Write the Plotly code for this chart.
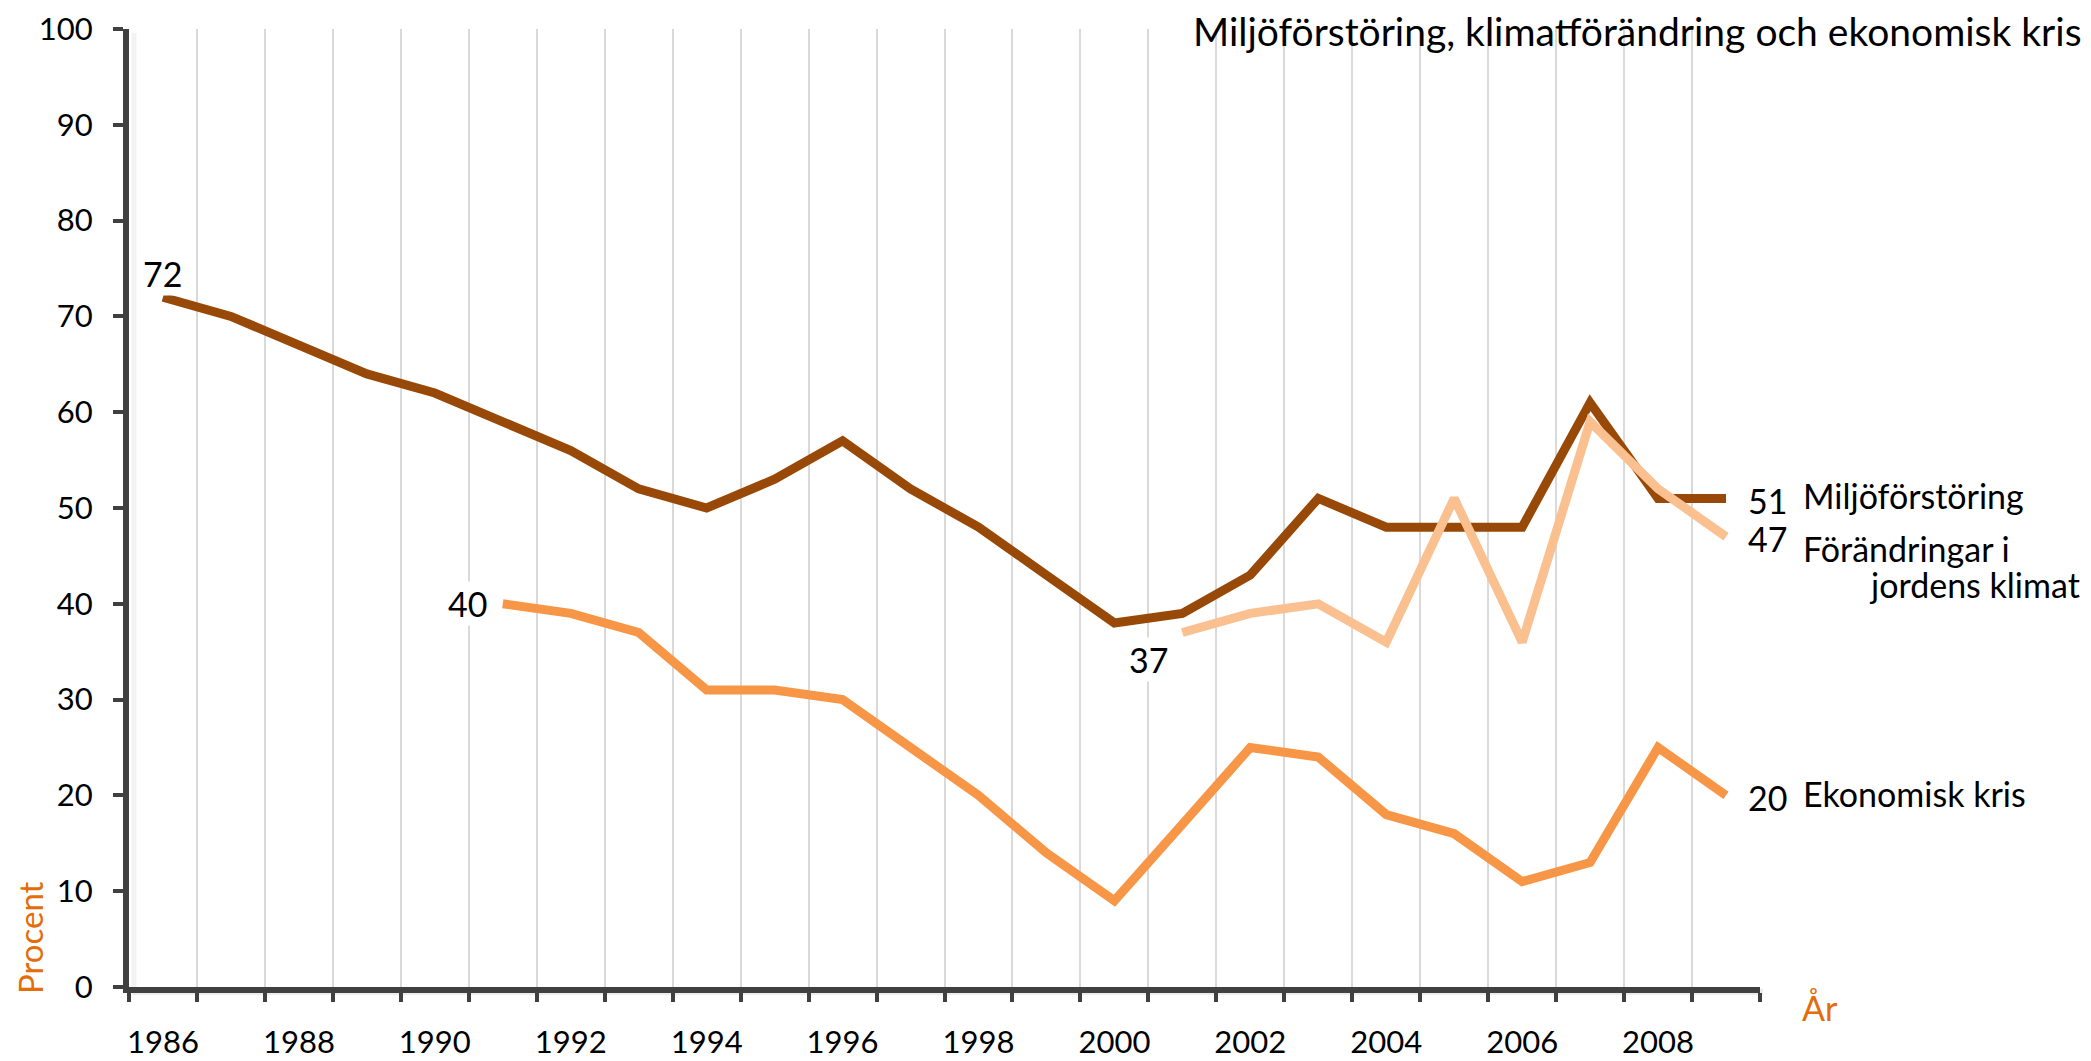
import plotly.graph_objects as go

miljo_years = list(range(1986, 2010))
miljo = [72, 70, 67, 64, 62, 59, 56, 52, 50, 53, 57, 52, 48, 43, 38, 39, 43, 51, 48, 48, 48, 61, 51, 51]
ekon_years = list(range(1991, 2010))
ekon = [40, 39, 37, 31, 31, 30, 25, 20, 14, 9, 17, 25, 24, 18, 16, 11, 13, 25, 20]
klimat_years = list(range(2001, 2010))
klimat = [37, 39, 40, 36, 51, 36, 59, 52, 47]
tick_years = list(range(1986, 2009, 2))
yticks = list(range(0, 101, 10))

C_MILJO = "#984807"
C_EKON = "#F79646"
C_KLIM = "#FAC090"
C_AXTITLE = "#E46C0A"
C_AX = "#404040"
FONT = "Lato"
FS_TICK = 31
FS_LAB = 34
FS_TITLE = 39

# page offset (body margin) and figure geometry in window pixels
OFF = 8
W, H = 2091 - OFF, 1061 - OFF
PL, PR, PT, PB = 129, 1760, 29, 987  # plot area in window pixels
L, T = PL - OFF, PT - OFF
R, B = W - (PR - OFF), H - (PB - OFF)
pw, ph = W - L - R, H - T - B
def px(x): return (x - OFF - L) / pw
def py(y): return (H - B - (y - OFF)) / ph

fig = go.Figure()
for xs, ys, c, name in [(ekon_years, ekon, C_EKON, "Ekonomisk kris"),
                        (miljo_years, miljo, C_MILJO, "Miljöförstöring"),
                        (klimat_years, klimat, C_KLIM, "Förändringar i jordens klimat")]:
    fig.add_trace(go.Scatter(x=xs, y=ys, mode="lines", name=name,
                             line=dict(color=c, width=9), showlegend=False))

ann = []
def lab(x, y, text, xanchor="center", xshift=0, yshift=0):
    ann.append(dict(x=x, y=y, xref="x", yref="y", text=text, showarrow=False,
                    xanchor=xanchor, yanchor="middle", xshift=xshift, yshift=yshift,
                    font=dict(family=FONT, size=FS_LAB, color="black"), bgcolor="white"))

lab(miljo_years[0], miljo[0], str(miljo[0]), yshift=24)
lab(ekon_years[0], ekon[0], str(ekon[0]), xanchor="right", xshift=-14)
lab(klimat_years[0], klimat[0], str(klimat[0]), xshift=-34, yshift=-27)
lab(miljo_years[-1], miljo[-1], str(miljo[-1]), xanchor="left", xshift=20, yshift=-2)
lab(klimat_years[-1], klimat[-1], str(klimat[-1]), xanchor="left", xshift=20, yshift=-2)
lab(ekon_years[-1], ekon[-1], str(ekon[-1]), xanchor="left", xshift=20, yshift=-2)

def name_lab(xw, yw, text, xanchor="left"):
    ann.append(dict(x=px(xw), y=py(yw), xref="paper", yref="paper", text=text, showarrow=False,
                    xanchor=xanchor, yanchor="middle",
                    font=dict(family=FONT, size=FS_LAB, color="black")))

name_lab(1801, 495, "Miljöförstöring")
name_lab(1801, 548, "Förändringar i")
name_lab(2082, 584, "jordens klimat", xanchor="right")
name_lab(1801, 793, "Ekonomisk kris")

ann.append(dict(x=px(2084), y=py(31), xref="paper", yref="paper",
                text="Miljöförstöring, klimatförändring och ekonomisk kris",
                showarrow=False, xanchor="right", yanchor="middle",
                font=dict(family=FONT, size=FS_TITLE, color="black")))
ann.append(dict(x=px(30), y=py(938), xref="paper", yref="paper", text="Procent",
                textangle=-90, showarrow=False, xanchor="center", yanchor="middle",
                font=dict(family=FONT, size=33, color=C_AXTITLE)))
ann.append(dict(x=px(1820), y=py(1007), xref="paper", yref="paper", text="År",
                showarrow=False, xanchor="center", yanchor="middle",
                font=dict(family=FONT, size=FS_LAB, color=C_AXTITLE)))

# soft shadows along the axes
shapes = [
    dict(type="line", xref="paper", yref="paper", x0=0.002, x1=1.002, y0=-5, y1=-5,
         ysizemode="pixel", yanchor=0, line=dict(color="rgba(0,0,0,0.07)", width=6), layer="below"),
    dict(type="line", xref="paper", yref="paper", x0=5, x1=5, y0=-0.004, y1=0.996,
         xsizemode="pixel", xanchor=0, line=dict(color="rgba(0,0,0,0.05)", width=5), layer="below"),
]

fig.update_layout(
    width=W, height=H,
    margin=dict(l=L, r=R, t=T, b=B, pad=0, autoexpand=False),
    paper_bgcolor="white", plot_bgcolor="white",
    annotations=ann, shapes=shapes,
    xaxis=dict(range=[1985.5, 2009.5], tickmode="array", tickvals=tick_years,
               ticktext=[str(t) for t in tick_years], ticks="", showgrid=False,
               showline=True, linecolor=C_AX, linewidth=6, zeroline=False,
               automargin=False, ticklabelstandoff=23,
               tickfont=dict(family=FONT, size=FS_TICK, color="black"),
               minor=dict(tick0=1985.5, dtick=1, showgrid=True, gridcolor="#D9D9D9",
                          gridwidth=2, ticks="outside", ticklen=9, tickwidth=4,
                          tickcolor=C_AX)),
    yaxis=dict(range=[0, 100], tickmode="array", tickvals=yticks, showgrid=False,
               showline=True, linecolor=C_AX, linewidth=6, zeroline=False,
               automargin=False, ticks="outside", ticklen=10, tickwidth=4, tickcolor=C_AX,
               ticklabelstandoff=14,
               tickfont=dict(family=FONT, size=FS_TICK, color="black")),
)

fig.write_html("out.html")
